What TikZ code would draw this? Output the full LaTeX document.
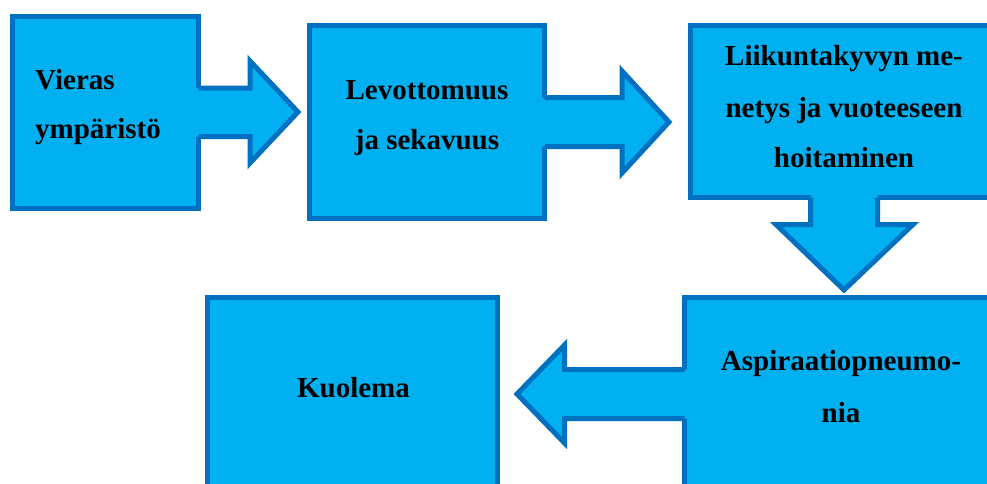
\documentclass[tikz,border=0pt]{standalone}
\usepackage{fontspec}
\setmainfont{Liberation Serif}
\definecolor{boxfill}{HTML}{00B0F0}
\definecolor{boxline}{HTML}{0070C0}
\begin{document}
\begin{tikzpicture}[x=1pt,y=-1pt,
  box/.style={rectangle,draw=boxline,fill=boxfill,line width=5pt,inner sep=0pt,outer sep=0pt},
  arrfill/.style={fill=boxfill},
  arrline/.style={draw=boxline,line width=5pt,line join=miter},
  txt/.style={inner sep=0pt,font=\bfseries\fontsize{29}{50}\selectfont}]
\useasboundingbox (0,0) rectangle (987,483);
\clip (0,0) rectangle (987,483);
% boxes
\node[box,minimum width=186pt,minimum height=192pt] (b1) at (105.5,112.5) {};
\node[box,minimum width=235pt,minimum height=193pt] (b2) at (427,122) {};
\node[box,minimum width=319.5pt,minimum height=172pt] (b3) at (850.25,111.5) {};
\node[box,minimum width=325.5pt,minimum height=202.5pt] (b4) at (847.25,398.75) {};
\node[box,minimum width=290pt,minimum height=202.5pt] (b5) at (352.5,398.75) {};
% arrow 1
\fill[arrfill] (190,88) -- (250,88) -- (250,61) -- (298,112) -- (250,163) -- (250,136.5) -- (190,136.5) -- cycle;
\draw[arrline] (198.5,88) -- (250,88) -- (250,61) -- (298,112) -- (250,163) -- (250,136.5) -- (198.5,136.5);
% arrow 2
\fill[arrfill] (535,97.5) -- (622,97.5) -- (622,71) -- (669,122) -- (622,173) -- (622,146.5) -- (535,146.5) -- cycle;
\draw[arrline] (544.5,97.5) -- (622,97.5) -- (622,71) -- (669,122) -- (622,173) -- (622,146.5) -- (544.5,146.5);
% down arrow
\fill[arrfill] (810.5,188) -- (810.5,224.5) -- (776,224.5) -- (844,290) -- (913,224.5) -- (877.5,224.5) -- (877.5,188) -- cycle;
\draw[arrline] (810.5,197.5) -- (810.5,224.5) -- (776,224.5) -- (844,290) -- (913,224.5) -- (877.5,224.5) -- (877.5,197.5);
% left arrow
\fill[arrfill] (694,369.5) -- (564.5,369.5) -- (564.5,345) -- (517,394) -- (564.5,443) -- (564.5,418.5) -- (694,418.5) -- cycle;
\draw[arrline] (684.5,369.5) -- (564.5,369.5) -- (564.5,345) -- (517,394) -- (564.5,443) -- (564.5,418.5) -- (684.5,418.5);
% texts
\node[txt,anchor=base west] (t1a) at (35,89) {Vieras};
\node[txt,anchor=base west] (t1b) at (35,138) {ympäristö};
\node[txt,anchor=base] (t2a) at (427,99) {Levottomuus};
\node[txt,anchor=base] (t2b) at (427,149) {ja sekavuus};
\node[txt,anchor=base] (t3a) at (844,65) {Liikuntakyvyn me-};
\node[txt,anchor=base] (t3b) at (844,117) {netys ja vuoteeseen};
\node[txt,anchor=base] (t3c) at (844,167) {hoitaminen};
\node[txt,anchor=base] (t4a) at (841,370) {Aspiraatiopneumo-};
\node[txt,anchor=base] (t4b) at (841,422) {nia};
\node[txt,anchor=base] (t5) at (353.5,397) {Kuolema};
\end{tikzpicture}
\end{document}
